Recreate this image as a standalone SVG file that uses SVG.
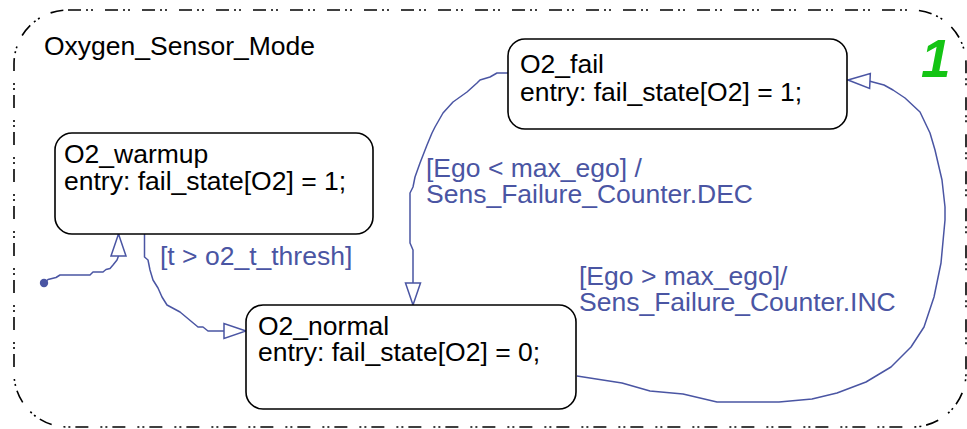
<svg xmlns="http://www.w3.org/2000/svg" width="967" height="429" viewBox="0 0 967 429">
  <style>
    .txt { font-family: "Liberation Sans", Arial, Helvetica, sans-serif; font-size: 26.5px; fill: #000; }
    .lbl { font-family: "Liberation Sans", Arial, Helvetica, sans-serif; font-size: 26.5px; fill: #4a55a3; }
    .state { fill: #fff; stroke: #000; stroke-width: 1.6; }
    .wire { fill: none; stroke: #4a55a3; stroke-width: 1.5; stroke-linejoin: round; marker-end: url(#open-arrow); }
    .boundary { fill: none; stroke: #000; stroke-width: 1.6; stroke-dasharray: 13 5 2 3 2 12; }
  </style>
  <defs>
    <marker id="open-arrow" markerUnits="userSpaceOnUse" viewBox="-24 -9 26 18" refX="0" refY="0" markerWidth="26" markerHeight="18" orient="auto">
      <path d="M0,0 L-22,-7.5 L-22,7.5 Z" fill="#fff" stroke="#4a55a3" stroke-width="1.5" stroke-linejoin="miter"/>
    </marker>
  </defs>
  <rect width="967" height="429" fill="#fff"/>

  <!-- parent state -->
  <g id="Oxygen_Sensor_Mode">
    <rect class="boundary" x="14" y="10" width="952" height="417" rx="54" ry="54"/>
    <text class="txt" x="44" y="55">Oxygen_Sensor_Mode</text>
    <text x="921" y="77" font-family="'Liberation Sans', Arial, Helvetica, sans-serif" font-size="53" font-weight="bold" font-style="italic" fill="#14c414">1</text>
  </g>

  <!-- connectors -->
  <g id="transitions">
    <circle cx="44" cy="283" r="4.2" fill="#4a55a3"/>
    <path class="wire" d="M44,283 L48,279.5 L56,277.5 L60,275 L90,275 L93,272 L103,272 L106,269.5 L110,268.5 L113,265 L117,260 L118.5,256 L118.5,234"/>
    <path class="wire" d="M144.5,234 L144.5,257 L148,260 L150,270 L153,280 L158,288 L162,297 L167,305 L180,312 L192,322 L198,327 L203,327 L208,331 L246,331"/>
    <path class="wire" d="M508,73 L497,73 L490,77 L480,80 L477,83 L467,92 L453,102 L443,113 L435,127 L432,133 L427,145 L420,163 L415,177 L413,187 L410,193 L410,243 L413,250 L413,305"/>
    <path class="wire" d="M577,376 L622,383 L650,391 L683,394 L717,402 L779,402 L812,399 L837,393 L866,382 L891,367 L911,347 L924,327 L934,297 L941,263 L945,220 L945,207 L942,180 L935,150 L930,133 L920,112 L905,98 L893,90 L884,85 L869,81 L848,80"/>
    <text class="lbl" x="160" y="265">[t &gt; o2_t_thresh]</text>
    <text class="lbl" x="426" y="177">[Ego &lt; max_ego] /</text>
    <text class="lbl" x="426" y="203">Sens_Failure_Counter.DEC</text>
    <text class="lbl" x="579" y="285">[Ego &gt; max_ego]/</text>
    <text class="lbl" x="579" y="311">Sens_Failure_Counter.INC</text>
  </g>

  <!-- states -->
  <g id="O2_warmup">
    <rect class="state" x="55" y="133" width="318" height="101" rx="17" ry="17"/>
    <text class="txt" x="64" y="163">O2_warmup</text>
    <text class="txt" x="64" y="190">entry: fail_state[O2] = 1;</text>
  </g>
  <g id="O2_fail">
    <rect class="state" x="508" y="39" width="339" height="90" rx="17" ry="17"/>
    <text class="txt" x="520" y="73">O2_fail</text>
    <text class="txt" x="520" y="101">entry: fail_state[O2] = 1;</text>
  </g>
  <g id="O2_normal">
    <rect class="state" x="246" y="305" width="330" height="104" rx="17" ry="17"/>
    <text class="txt" x="258" y="335">O2_normal</text>
    <text class="txt" x="258" y="361">entry: fail_state[O2] = 0;</text>
  </g>
</svg>
